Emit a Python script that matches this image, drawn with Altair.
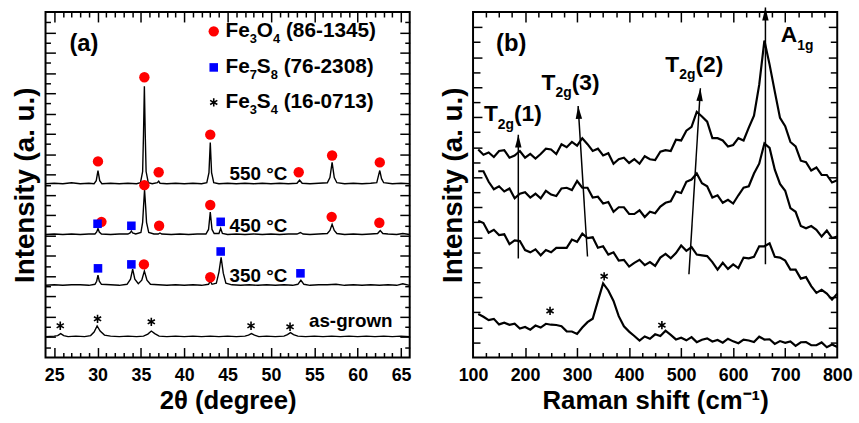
import math
import altair as alt
import pandas as pd

# ---------------- panel (a): XRD patterns ----------------
TT_550 = [24.0, 25.0, 26.0, 27.0, 28.0, 29.0, 29.6, 29.85, 30.05, 30.25, 30.5, 31.5, 32.5, 33.5, 34.5,
          34.95, 35.2, 35.3, 35.4, 35.5, 35.6, 35.85, 36.3, 36.9, 37.05, 37.2, 38.0, 39.0, 40.0, 41.0,
          42.0, 42.6, 42.85, 43.0, 43.15, 43.4, 44.0, 45.0, 46.0, 47.0, 48.0, 49.0, 50.0, 51.0, 52.0,
          53.0, 53.3, 53.6, 54.5, 55.5, 56.5, 56.8, 57.05, 57.3, 57.6, 58.5, 59.5, 60.5, 61.5, 62.2,
          62.4, 62.55, 62.75, 63.0, 64.0, 65.0, 66.0]
I_550 = [17.1, 17.15, 17.1, 17.2, 17.1, 17.15, 17.1, 17.4, 18.4, 17.4, 17.1, 17.15, 17.1, 17.15, 17.1,
         17.2, 18.3, 22.0, 26.7, 22.0, 18.3, 17.2, 17.1, 17.2, 17.35, 17.15, 17.1, 17.15, 17.1, 17.15,
         17.1, 17.2, 18.2, 21.15, 18.2, 17.2, 17.1, 17.15, 17.1, 17.15, 17.1, 17.15, 17.1, 17.15, 17.1,
         17.15, 17.45, 17.15, 17.1, 17.15, 17.2, 17.7, 19.2, 17.7, 17.2, 17.1, 17.15, 17.1, 17.15, 17.2,
         17.9, 18.4, 17.6, 17.2, 17.1, 17.15, 17.1]

TT_450 = [24.0, 25.0, 26.0, 27.0, 28.0, 29.0, 29.7, 29.9, 30.05, 30.2, 30.45, 31.5, 32.5, 33.5, 33.75,
          33.9, 34.05, 34.4, 35.0, 35.2, 35.3, 35.42, 35.55, 35.65, 35.9, 36.5, 37.0, 37.2, 37.4, 38.5,
          39.5, 40.5, 41.5, 42.5, 42.8, 43.0, 43.2, 43.45, 44.0, 44.2, 44.4, 45.0, 46.0, 47.0, 48.0,
          49.0, 50.0, 51.0, 52.0, 53.0, 53.4, 53.7, 54.5, 55.5, 56.5, 56.8, 57.05, 57.3, 57.6, 58.5,
          59.5, 60.5, 61.5, 62.3, 62.6, 62.9, 63.5, 64.5, 65.2, 66.0]
I_450 = [12.1, 12.15, 12.1, 12.15, 12.1, 12.15, 12.15, 12.35, 12.7, 12.35, 12.15, 12.1, 12.15, 12.15, 12.25,
         12.45, 12.25, 12.15, 12.3, 13.3, 14.8, 16.5, 14.8, 13.3, 12.3, 12.15, 12.15, 12.25, 12.15, 12.1,
         12.15, 12.1, 12.15, 12.15, 12.6, 14.3, 12.6, 12.2, 12.2, 12.7, 12.2, 12.1, 12.15, 12.1, 12.15,
         12.1, 12.15, 12.1, 12.15, 12.15, 12.3, 12.15, 12.1, 12.15, 12.2, 12.5, 13.1, 12.5, 12.2, 12.1,
         12.15, 12.1, 12.15, 12.2, 12.5, 12.2, 12.15, 12.1, 12.2, 12.1]

TT_350 = [24.0, 25.0, 26.0, 27.0, 28.0, 29.0, 29.7, 29.9, 30.05, 30.2, 30.45, 31.5, 32.5, 33.4, 33.8,
          34.05, 34.3, 34.7, 35.1, 35.4, 35.7, 36.1, 37.0, 38.0, 39.0, 40.0, 41.0, 42.0, 42.8, 43.0,
          43.2, 43.7, 44.0, 44.25, 44.5, 44.8, 45.5, 46.5, 47.5, 48.5, 49.5, 50.5, 51.5, 52.5, 53.1,
          53.45, 53.8, 54.5, 55.5, 56.5, 57.5, 58.5, 59.5, 60.5, 61.5, 62.5, 63.5, 64.5, 65.2, 66.0]
I_350 = [7.1, 7.15, 7.1, 7.15, 7.15, 7.1, 7.2, 7.5, 8.1, 7.5, 7.2, 7.15, 7.1, 7.2, 7.7,
         8.7, 7.7, 7.25, 7.6, 8.5, 7.6, 7.2, 7.15, 7.1, 7.15, 7.1, 7.15, 7.1, 7.2, 7.5,
         7.2, 7.3, 8.4, 9.85, 8.3, 7.3, 7.15, 7.1, 7.15, 7.1, 7.15, 7.1, 7.15, 7.1, 7.2,
         7.6, 7.2, 7.1, 7.15, 7.15, 7.2, 7.1, 7.15, 7.1, 7.15, 7.1, 7.15, 7.1, 7.25, 7.1]

TT_ASG = [24.0, 25.0, 25.4, 25.75, 26.1, 26.6, 27.5, 28.5, 29.2, 29.6, 29.95, 30.3, 30.8, 31.5, 32.5,
          33.5, 34.5, 35.3, 35.8, 36.2, 36.6, 37.1, 38.0, 39.0, 40.0, 41.0, 42.0, 43.0, 44.0, 45.0,
          46.0, 47.0, 47.4, 47.75, 48.1, 48.6, 49.5, 50.5, 51.5, 51.9, 52.25, 52.6, 53.1, 54.0, 55.0,
          56.0, 57.0, 58.0, 59.0, 60.0, 61.0, 62.0, 63.0, 64.0, 65.0, 66.0]
I_ASG = [2.05, 2.1, 2.15, 2.35, 2.15, 2.05, 2.1, 2.05, 2.15, 2.5, 3.1, 2.6, 2.2, 2.1, 2.05,
         2.1, 2.05, 2.1, 2.3, 2.6, 2.35, 2.1, 2.05, 2.1, 2.05, 2.1, 2.05, 2.1, 2.05, 2.1,
         2.05, 2.1, 2.2, 2.35, 2.2, 2.05, 2.1, 2.05, 2.1, 2.25, 2.45, 2.25, 2.1, 2.05, 2.1,
         2.05, 2.1, 2.05, 2.1, 2.05, 2.1, 2.05, 2.1, 2.05, 2.1, 2.05]

# phase markers (position of symbol)
FE3O4_X = [30.05, 35.4, 37.05, 43.0, 53.2, 57.05, 62.55, 35.4, 43.0, 30.45, 37.1, 57.0, 62.5, 35.35, 43.0]
FE3O4_Y = [19.3, 27.58, 18.23, 21.93, 18.23, 19.88, 19.2, 16.96, 15.01, 13.35, 12.96, 13.84, 13.26, 9.16, 7.89]
FE7S8_X = [30.0, 33.9, 44.2, 30.05, 33.9, 44.2, 53.4]
FE7S8_Y = [13.16, 12.96, 13.35, 8.77, 9.16, 10.43, 8.28]
FE3S4_X = [25.7, 30.0, 36.2, 47.7, 52.2]
FE3S4_Y = [3.12, 3.8, 3.51, 3.12, 3.02]

SAMPLE_LABELS = ["550 °C", "450 °C", "350 °C", "as-grown"]
SAMPLE_LABEL_X = [48.55, 48.55, 48.55, 59.2]
SAMPLE_LABEL_Y = [18.03, 12.96, 7.99, 3.54]

LEGEND_MARK_X = 43.4
LEGEND_TEXT_X = 44.75
LEGEND_Y = [32.1, 28.55, 25.1]
LEGEND_PARTS = [
    [("Fe", "main"), ("3", "sub"), ("O", "main"), ("4", "sub"), (" (86-1345)", "main")],
    [("Fe", "main"), ("7", "sub"), ("S", "main"), ("8", "sub"), (" (76-2308)", "main")],
    [("Fe", "main"), ("3", "sub"), ("S", "main"), ("4", "sub"), (" (16-0713)", "main")],
]

# ---------------- panel (b): Raman spectra ----------------
RAMAN_SHIFT = list(range(110, 801, 10))
RAMAN_550 = [13.85, 13.5, 13.65, 13.35, 13.75, 13.8, 13.3, 13.45, 13.75, 13.3, 13.55, 13.25, 13.55, 13.9,
             13.85, 13.55, 14.2, 14.0, 14.35, 14.1, 14.6, 14.2, 13.75, 13.9, 13.45, 13.6, 12.9, 13.2,
             13.3, 12.95, 13.2, 12.9, 13.4, 13.2, 13.15, 13.7, 13.8, 13.75, 14.5, 14.45, 15.1, 15.35,
             16.35, 16.05, 15.7, 14.6, 14.6, 14.45, 14.05, 14.15, 14.6, 14.45, 15.3, 16.1, 18.15, 21.1,
             19.5, 17.7, 15.95, 15.4, 14.35, 14.05, 13.1, 13.0, 12.45, 12.65, 12.15, 12.15, 11.65, 11.8]
RAMAN_450 = [12.4, 12.4, 11.7, 11.2, 11.4, 11.05, 11.25, 10.6, 10.9, 11.0, 10.65, 10.9, 10.6, 11.1,
             10.85, 10.75, 11.25, 11.3, 11.15, 11.75, 11.3, 11.3, 10.65, 10.7, 10.25, 10.35, 9.7, 10.0,
             10.0, 9.55, 9.55, 9.8, 9.35, 9.7, 9.6, 10.05, 10.3, 10.4, 11.05, 10.95, 11.7, 11.85,
             12.25, 11.6, 11.4, 10.65, 10.8, 10.3, 10.5, 10.25, 10.8, 11.3, 11.4, 12.25, 12.9, 14.25,
             13.95, 12.5, 11.55, 11.1, 9.95, 9.7, 8.75, 8.6, 8.75, 8.5, 8.05, 8.45, 7.95, 8.05]
RAMAN_350 = [9.1, 8.95, 8.3, 8.5, 8.15, 8.2, 7.55, 7.8, 7.75, 7.15, 7.0, 7.2, 6.8, 7.15,
             7.0, 7.3, 7.3, 7.3, 7.85, 7.7, 8.25, 7.95, 8.0, 7.3, 7.4, 6.85, 7.0, 6.45,
             6.5, 6.05, 6.3, 6.5, 6.15, 6.35, 6.1, 6.65, 6.9, 6.6, 6.95, 7.45, 7.1, 7.35,
             6.85, 6.8, 6.75, 6.35, 5.85, 6.3, 5.9, 6.2, 5.95, 6.65, 6.6, 6.7, 7.4, 7.4,
             7.6, 6.7, 6.65, 6.45, 5.85, 5.85, 5.25, 5.35, 4.75, 4.3, 4.5, 4.25, 3.85, 4.25]
RAMAN_ASG = [2.89, 2.71, 2.49, 2.57, 2.2, 2.31, 2.17, 2.25, 1.93, 2.03, 1.85, 2.12, 1.99, 2.24,
             2.18, 2.16, 2.08, 1.74, 1.73, 1.57, 1.99, 2.35, 2.58, 3.77, 4.93, 4.46, 3.76, 2.75,
             2.07, 1.72, 1.43, 1.12, 1.4, 1.24, 1.54, 1.43, 1.78, 1.5, 1.2, 1.31, 1.14, 1.35,
             1.02, 1.18, 1.27, 1.06, 1.16, 0.98, 1.25, 1.07, 0.95, 1.19, 1.13, 1.03, 1.38, 1.19,
             1.21, 0.9, 1.09, 0.97, 1.07, 0.77, 1.01, 1.02, 0.81, 0.82, 1.0, 0.68, 0.86, 0.69]

RAMAN_STAR_X = [248, 352, 463]
RAMAN_STAR_Y = [3.1, 5.4, 2.15]

ARROW_TAIL_X = [187, 320, 515, 662]
ARROW_TAIL_Y = [6.59, 6.72, 5.54, 6.2]
ARROW_TIP_X = [187, 302, 537, 662]
ARROW_TIP_Y = [14.83, 16.74, 17.93, 23.3]

MODE_ANCHOR_X = [120.9, 231.8, 469.6, 691.6]
MODE_ANCHOR_Y = [16.2, 18.3, 19.5, 21.45]
MODE_PARTS = [
    [("T", "main"), ("2g", "sub"), ("(1)", "main")],
    [("T", "main"), ("2g", "sub"), ("(3)", "main")],
    [("T", "main"), ("2g", "sub"), ("(2)", "main")],
    [("A", "main"), ("1g", "sub")],
]

# ---------------- layout / style ----------------
W, H = 368, 349
XL_DOM, YL_DOM = [24, 66], [0, 34]
XR_DOM, YR_DOM = [100, 800], [0, 23]
PX_XL, PX_YL = W / (XL_DOM[1] - XL_DOM[0]), H / (YL_DOM[1] - YL_DOM[0])
PX_XR, PX_YR = W / (XR_DOM[1] - XR_DOM[0]), H / (YR_DOM[1] - YR_DOM[0])
FONT = "Liberation Sans"
ASTERISK = "M0,-1L0,1M-0.87,-0.5L0.87,0.5M-0.87,0.5L0.87,-0.5"
ARROWHEAD = "M0,0L-0.5,2L0.5,2Z"

# Arial/Liberation Sans Bold advance widths (per 1000 em)
AW = {" ": 278, "(": 333, ")": 333, "-": 333, ".": 278, "A": 722, "C": 722, "F": 611,
      "O": 778, "S": 667, "T": 611, "e": 556, "g": 611}


def text_w(s, size):
    return sum(AW.get(c, 556) for c in s) * size / 1000.0


def build_pieces(anchors_x, anchors_y, parts_list, px_x, px_y, main_size, sub_size, sub_drop):
    main_rows, sub_rows = [], []
    for ax, ay, parts in zip(anchors_x, anchors_y, parts_list):
        cur = 0.0
        for txt, kind in parts:
            size = main_size if kind == "main" else sub_size
            lead = len(txt) - len(txt.lstrip(" "))
            cur += lead * 278 * size / 1000.0
            t = txt.strip(" ")
            if kind == "main":
                main_rows.append({"x": ax + cur / px_x, "y": ay, "text": t})
            else:
                sub_rows.append({"x": ax + cur / px_x, "y": ay - sub_drop / px_y, "text": t})
            cur += text_w(t, size)
    return pd.DataFrame(main_rows), pd.DataFrame(sub_rows)


def label_axis(values, title):
    return alt.Axis(orient="bottom", values=values, ticks=False, domain=False, grid=False,
                    labelFont=FONT, labelFontSize=18, labelFontWeight="bold", labelColor="black",
                    labelPadding=9, labelFlush=False, labelOverlap=False,
                    title=title, titleFont=FONT, titleFontSize=26, titleFontWeight="bold",
                    titleColor="black", titlePadding=4)


def title_axis():
    return alt.Axis(orient="left", ticks=False, labels=False, domain=False, grid=False,
                    title="Intensity (a. u.)", titleFont=FONT, titleFontSize=28,
                    titleFontWeight="bold", titleColor="black", titlePadding=6)


def tick_axis(orient, offset, values, test, major, minor):
    return alt.Axis(orient=orient, offset=offset, values=values, labels=False, domain=False,
                    grid=False, title=None, ticks=True, tickColor="black", tickWidth=1.5,
                    tickSize={"condition": {"test": test, "value": major}, "value": minor})


def text_layer(df, size, xs, ys, align="left"):
    return alt.Chart(df).mark_text(font=FONT, fontSize=size, fontWeight="bold", align=align,
                                   baseline="middle", color="black").encode(
        x=alt.X("x:Q", scale=xs, axis=None), y=alt.Y("y:Q", scale=ys, axis=None), text="text:N")


# ---------------- panel (a) ----------------
xs_l = alt.Scale(domain=XL_DOM, nice=False, zero=False)
ys_l = alt.Scale(domain=YL_DOM, nice=False, zero=False)

xrd_rows = []
for name, tt, ii in [("550", TT_550, I_550), ("450", TT_450, I_450),
                     ("350", TT_350, I_350), ("as-grown", TT_ASG, I_ASG)]:
    for a, b in zip(tt, ii):
        xrd_rows.append({"two_theta": a, "intensity": b, "sample": name})
xrd_df = pd.DataFrame(xrd_rows)

circ_df = pd.DataFrame({"x": FE3O4_X + [LEGEND_MARK_X], "y": FE3O4_Y + [LEGEND_Y[0]]})
sq_df = pd.DataFrame({"x": FE7S8_X + [LEGEND_MARK_X], "y": FE7S8_Y + [LEGEND_Y[1]]})
star_df = pd.DataFrame({"x": FE3S4_X + [LEGEND_MARK_X], "y": FE3S4_Y + [LEGEND_Y[2]]})
sample_df = pd.DataFrame({"x": SAMPLE_LABEL_X, "y": SAMPLE_LABEL_Y, "text": SAMPLE_LABELS})
leg_main, leg_sub = build_pieces([LEGEND_TEXT_X] * 3, LEGEND_Y, LEGEND_PARTS, PX_XL, PX_YL, 21, 13, 8)
tag_a = pd.DataFrame({"x": [28.43], "y": [30.8], "text": ["(a)"]})

xl_ticks = list(range(25, 66))
yl_ticks = list(range(1, 34))

left_lines = alt.Chart(xrd_df).mark_line(color="black", strokeWidth=1.4).encode(
    x=alt.X("two_theta:Q", scale=xs_l, axis=label_axis(list(range(25, 66, 5)), "2θ (degree)")),
    y=alt.Y("intensity:Q", scale=ys_l, axis=title_axis()),
    detail="sample:N")
left_circ = alt.Chart(circ_df).mark_point(shape="circle", filled=True, color="#ff0000", size=110, opacity=1).encode(
    x=alt.X("x:Q", scale=xs_l, axis=tick_axis("top", -H, xl_ticks, "datum.value % 5 === 0", 10, 5)),
    y=alt.Y("y:Q", scale=ys_l, axis=tick_axis("right", -W, yl_ticks, "datum.value % 2 === 0", 10, 5)))
left_sq = alt.Chart(sq_df).mark_point(shape="square", filled=True, color="#0000ff", size=75, opacity=1).encode(
    x=alt.X("x:Q", scale=xs_l, axis=tick_axis("bottom", -H, xl_ticks, "datum.value % 5 === 0", 10, 5)),
    y=alt.Y("y:Q", scale=ys_l, axis=tick_axis("left", -W, yl_ticks, "datum.value % 2 === 0", 10, 5)))
left_star = alt.Chart(star_df).mark_point(shape=ASTERISK, filled=False, color="black", strokeWidth=1.6,
                                          size=70, opacity=1).encode(
    x=alt.X("x:Q", scale=xs_l, axis=None), y=alt.Y("y:Q", scale=ys_l, axis=None))

left = alt.layer(
    left_lines, left_circ, left_sq, left_star,
    text_layer(sample_df, 19, xs_l, ys_l, align="center"),
    text_layer(leg_main, 21, xs_l, ys_l),
    text_layer(leg_sub, 13, xs_l, ys_l),
    text_layer(tag_a, 24, xs_l, ys_l, align="center"),
).resolve_axis(x="independent", y="independent").properties(width=W, height=H)

# ---------------- panel (b) ----------------
xs_r = alt.Scale(domain=XR_DOM, nice=False, zero=False)
ys_r = alt.Scale(domain=YR_DOM, nice=False, zero=False)

raman_rows = []
for name, vals in [("550", RAMAN_550), ("450", RAMAN_450), ("350", RAMAN_350), ("as-grown", RAMAN_ASG)]:
    for a, b in zip(RAMAN_SHIFT, vals):
        raman_rows.append({"shift": a, "intensity": b, "sample": name})
raman_df = pd.DataFrame(raman_rows)

arrow_df = pd.DataFrame({"x": ARROW_TAIL_X, "y": ARROW_TAIL_Y, "x2": ARROW_TIP_X, "y2": ARROW_TIP_Y})
head_angles = [math.degrees(math.atan2((tx - sx) * PX_XR, (ty - sy) * PX_YR)) % 360
               for sx, sy, tx, ty in zip(ARROW_TAIL_X, ARROW_TAIL_Y, ARROW_TIP_X, ARROW_TIP_Y)]
head_df = pd.DataFrame({"x": ARROW_TIP_X, "y": ARROW_TIP_Y, "angle": head_angles})
rstar_df = pd.DataFrame({"x": RAMAN_STAR_X, "y": RAMAN_STAR_Y})
mode_main, mode_sub = build_pieces(MODE_ANCHOR_X, MODE_ANCHOR_Y, MODE_PARTS, PX_XR, PX_YR, 23, 14, 11)
tag_b = pd.DataFrame({"x": [173.2], "y": [20.9], "text": ["(b)"]})

xr_ticks = list(range(125, 800, 25))
yr_ticks = list(range(1, 23))

right_lines = alt.Chart(raman_df).mark_line(color="black", strokeWidth=2.2).encode(
    x=alt.X("shift:Q", scale=xs_r, axis=label_axis(list(range(100, 801, 100)), "Raman shift (cm⁻¹)")),
    y=alt.Y("intensity:Q", scale=ys_r, axis=title_axis()),
    detail="sample:N")
right_arrows = alt.Chart(arrow_df).mark_rule(color="black", strokeWidth=1.5).encode(
    x=alt.X("x:Q", scale=xs_r, axis=tick_axis("top", -H, xr_ticks, "datum.value % 100 === 0", 10, 5)),
    y=alt.Y("y:Q", scale=ys_r, axis=tick_axis("right", -W, yr_ticks, "datum.value % 2 === 0", 9, 7)),
    x2="x2:Q", y2="y2:Q")
right_heads = alt.Chart(head_df).mark_point(shape=ARROWHEAD, filled=True, color="black", size=169, opacity=1).encode(
    x=alt.X("x:Q", scale=xs_r, axis=tick_axis("bottom", -H, xr_ticks, "datum.value % 100 === 0", 10, 5)),
    y=alt.Y("y:Q", scale=ys_r, axis=tick_axis("left", -W, yr_ticks, "datum.value % 2 === 0", 9, 7)),
    angle=alt.Angle("angle:Q", scale=None))
right_star = alt.Chart(rstar_df).mark_point(shape=ASTERISK, filled=False, color="black", strokeWidth=1.6,
                                            size=70, opacity=1).encode(
    x=alt.X("x:Q", scale=xs_r, axis=None), y=alt.Y("y:Q", scale=ys_r, axis=None))

right = alt.layer(
    right_lines, right_arrows, right_heads, right_star,
    text_layer(mode_main, 23, xs_r, ys_r),
    text_layer(mode_sub, 14, xs_r, ys_r),
    text_layer(tag_b, 24, xs_r, ys_r, align="center"),
).resolve_axis(x="independent", y="independent").properties(width=W, height=H)

chart = alt.hconcat(left, right, spacing=25).properties(
    padding={"left": 11, "top": 3, "right": 5, "bottom": 0},
    background="white",
).configure_view(stroke="black", strokeWidth=2)

chart.save("out.html", embed_options={"renderer": "svg", "actions": False})
